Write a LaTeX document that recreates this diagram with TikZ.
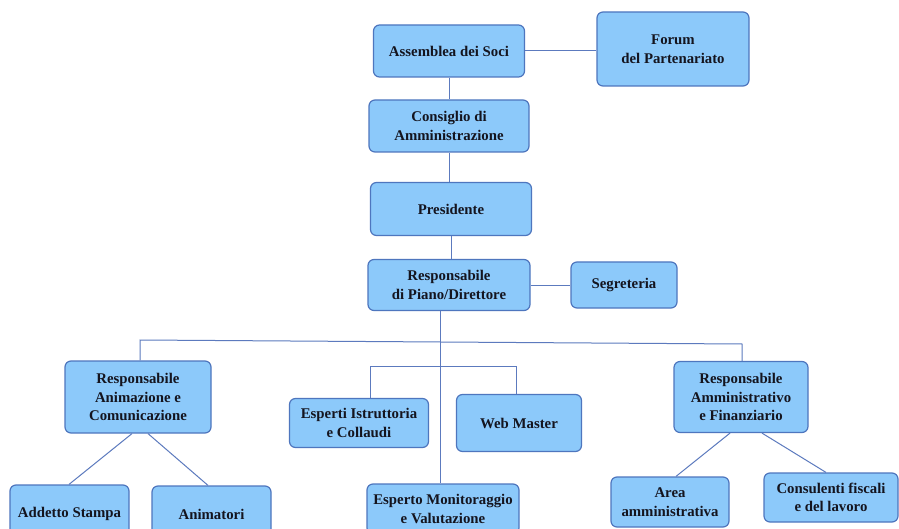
\documentclass[tikz,border=0pt]{standalone}
\usepackage{fontspec}
\setmainfont{Liberation Serif}
\definecolor{boxfill}{RGB}{140,201,250}
\definecolor{boxline}{RGB}{78,118,190}
\definecolor{linkcol}{RGB}{92,122,190}
\definecolor{txt}{RGB}{20,20,30}
\tikzset{
  orgbox/.style={draw=boxline, fill=boxfill, line width=1.2pt, rounded corners=6pt,
    align=center, inner sep=2pt, text=txt,
    font=\fontsize{14.8}{18.5}\selectfont\bfseries},
  link/.style={draw=linkcol, line width=1pt}
}
\begin{document}
\begin{tikzpicture}[x=1pt,y=-1pt]
\useasboundingbox[fill=white] (0,0) rectangle (899,529);
\node[orgbox, minimum width=151pt, minimum height=52pt] (ass) at (449,51) {Assemblea dei Soci};
\node[orgbox, minimum width=152pt, minimum height=74pt] (forum) at (673,49) {Forum\\del Partenariato};
\node[orgbox, minimum width=160pt, minimum height=52pt] (cons) at (449,126) {Consiglio di\\Amministrazione};
\node[orgbox, minimum width=161pt, minimum height=53pt] (pres) at (451,209) {Presidente};
\node[orgbox, minimum width=162pt, minimum height=51pt] (dir) at (449,285) {Responsabile\\di Piano/Direttore};
\node[orgbox, minimum width=106pt, minimum height=46pt] (seg) at (624,285) {Segreteria};
\node[orgbox, minimum width=146pt, minimum height=72pt] (rac) at (138,397) {Responsabile\\Animazione e\\Comunicazione};
\node[orgbox, minimum width=139pt, minimum height=49pt] (esp) at (359,423) {Esperti Istruttoria\\e Collaudi};
\node[orgbox, minimum width=125pt, minimum height=57pt] (web) at (519,423) {Web Master};
\node[orgbox, minimum width=134pt, minimum height=71pt] (raf) at (741,397) {Responsabile\\Amministrativo\\e Finanziario};
\node[orgbox, minimum width=119pt, minimum height=58pt] (stampa) at (69.5,514) {Addetto Stampa};
\node[orgbox, minimum width=119pt, minimum height=56pt] (anim) at (211.5,514) {Animatori};
\node[orgbox, minimum width=152pt, minimum height=50pt] (emon) at (443,509) {Esperto Monitoraggio\\e Valutazione};
\node[orgbox, minimum width=118pt, minimum height=50pt] (area) at (670,502) {Area\\amministrativa};
\node[orgbox, minimum width=134pt, minimum height=49pt] (consul) at (831,497.5) {Consulenti fiscali\\e del lavoro};

\coordinate (busL) at (140,340);
\coordinate (busR) at (742,344);
\coordinate (b2L) at (370,366);
\coordinate (b2R) at (516,366);
\coordinate (vx) at (440,300);

\draw[link] (ass.east) -- (ass.east -| forum.west);
\draw[link] (ass.south) -- (ass.south |- cons.north);
\draw[link] (pres.north -| cons.south) -- (cons.south);
\draw[link] (pres.south) -- (pres.south |- dir.north);
\draw[link] (dir.east) -- (dir.east -| seg.west);
\draw[link] (vx |- dir.south) -- (vx |- emon.north);
\draw[link] (busL |- rac.north) -- (busL) -- (busR) -- (busR |- raf.north);
\draw[link] (b2L |- esp.north) -- (b2L) -- (b2R) -- (b2R |- web.north);
\draw[link] ([xshift=-6pt]rac.south) -- ([xshift=-0.5pt]stampa.north);
\draw[link] ([xshift=10pt]rac.south) -- ([xshift=-3.5pt]anim.north);
\draw[link] ([xshift=-11pt]raf.south) -- ([xshift=6pt]area.north);
\draw[link] ([xshift=21pt]raf.south) -- ([xshift=-5pt]consul.north);
\end{tikzpicture}
\end{document}
